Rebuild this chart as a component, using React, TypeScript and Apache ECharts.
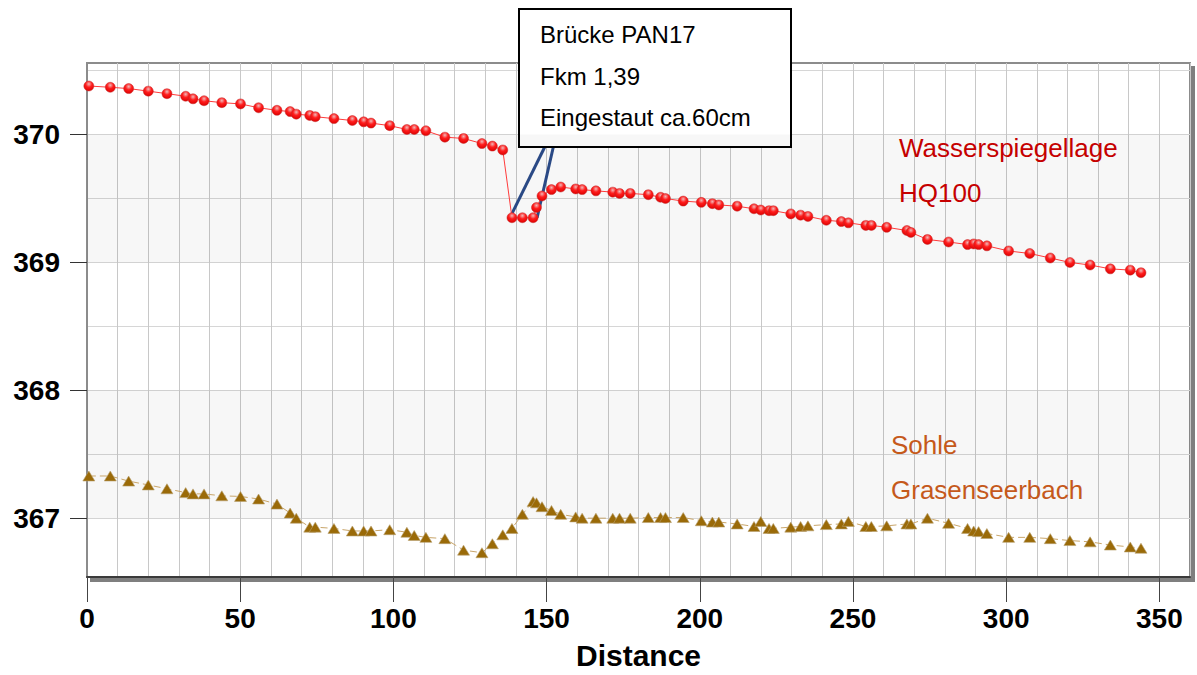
import React, { useEffect, useRef } from "react";
import * as echarts from "echarts";

const distances = [
  0.6, 7.6, 13.6, 20.0, 26.1, 32.2, 34.6, 38.2, 44.0, 50.1, 56.0, 62.0, 66.3, 68.3, 72.7, 74.5,
  80.6, 86.6, 90.3, 92.7, 98.8, 104.4, 106.8, 110.6, 116.8, 122.9, 128.9, 132.3, 135.7, 138.7,
  142.1, 145.6, 146.7, 148.5, 151.6, 154.6, 159.5, 161.6, 166.1, 171.6, 173.8, 177.3, 183.2,
  187.2, 188.8, 194.6, 200.5, 204.1, 206.2, 212.2, 217.7, 219.9, 222.6, 224.0, 229.7, 232.9,
  235.3, 241.3, 246.2, 248.5, 254.2, 256.0, 261.0, 267.6, 268.9, 274.3, 281.2, 287.4, 289.4,
  291.0, 293.7, 300.8, 307.7, 314.4, 320.8, 327.4, 334.0, 340.5, 344.0,
];

const waterLevel = [
  370.38, 370.37, 370.36, 370.34, 370.32, 370.3, 370.28, 370.265, 370.25, 370.24, 370.21, 370.19,
  370.18, 370.16, 370.15, 370.14, 370.125, 370.11, 370.1, 370.09, 370.07, 370.04, 370.04, 370.03,
  369.98, 369.97, 369.93, 369.91, 369.88, 369.35, 369.35, 369.35, 369.43, 369.52, 369.57, 369.59,
  369.575, 369.57, 369.56, 369.55, 369.54, 369.54, 369.53, 369.51, 369.5, 369.48, 369.47, 369.46,
  369.45, 369.44, 369.42, 369.41, 369.405, 369.405, 369.38, 369.37, 369.36, 369.33, 369.32,
  369.31, 369.29, 369.29, 369.275, 369.25, 369.235, 369.18, 369.16, 369.14, 369.145, 369.14,
  369.13, 369.09, 369.07, 369.035, 369.0, 368.98, 368.95, 368.94, 368.92,
];

const bedLevel = [
  367.33, 367.33, 367.29, 367.26, 367.23, 367.2, 367.19, 367.19, 367.175, 367.17, 367.15, 367.11,
  367.04, 367.0, 366.93, 366.93, 366.92, 366.9, 366.9, 366.9, 366.91, 366.89, 366.865, 366.85,
  366.84, 366.75, 366.73, 366.8, 366.87, 366.92, 367.03, 367.13, 367.12, 367.09, 367.06, 367.03,
  367.01, 367.0, 367.0, 367.0, 367.0, 367.0, 367.005, 367.005, 367.005, 367.005, 366.98, 366.97,
  366.97, 366.955, 366.935, 366.975, 366.92, 366.92, 366.93, 366.935, 366.94, 366.95, 366.955,
  366.975, 366.935, 366.935, 366.94, 366.955, 366.955, 367.0, 366.96, 366.92, 366.9, 366.895,
  366.88, 366.85, 366.85, 366.84, 366.825, 366.815, 366.79, 366.775, 366.765,
];

const xLabelTicks = [0, 50, 100, 150, 200, 250, 300, 350];
const yLabelTicks = [367, 368, 369, 370];
const yGridLines = [367, 367.5, 368, 368.5, 369, 369.5, 370, 370.5];
const shadedBands = [
  [369, 370],
  [367, 368],
];

const bridgeNote = ["Brücke PAN17", "Fkm 1,39", "Eingestaut ca.60cm"];
const bridgeStartDistance = 138.7;
const bridgeEndDistance = 145.6;
const waterLabel = ["Wasserspiegellage", "HQ100"];
const bedLabel = ["Sohle", "Grasenseerbach"];

const FONT = "'Liberation Sans', Arial, Helvetica, sans-serif";

export default function App() {
  const ref = useRef<HTMLDivElement>(null);

  useEffect(() => {
    if (!ref.current) return;
    const chart = echarts.init(ref.current, undefined, { renderer: "svg" });

    const X_MIN = 0;
    const X_MAX = 360;
    const Y_MIN = 366.54;
    const Y_MAX = 370.56;

    const option: any = {
      animation: false,
      backgroundColor: "#ffffff",
      grid: {
        left: 87,
        right: 7,
        top: 63,
        bottom: 98,
        show: true,
        backgroundColor: "#ffffff",
        borderColor: "#8c8c8c",
        borderWidth: 2,
        shadowColor: "rgba(0,0,0,0.5)",
        shadowOffsetX: 4,
        shadowOffsetY: 4,
        shadowBlur: 0,
      },
      xAxis: [
        {
          type: "value",
          min: X_MIN,
          max: X_MAX,
          name: "Distance",
          nameLocation: "middle",
          nameGap: 63,
          nameTextStyle: { fontFamily: FONT, fontWeight: "bold", fontSize: 30, color: "#000" },
          axisLine: { show: true, onZero: false, lineStyle: { color: "#3a3a3a", width: 2 } },
          axisTick: {
            show: true,
            length: 25,
            customValues: xLabelTicks,
            lineStyle: { color: "#444", width: 1 },
          },
          axisLabel: {
            show: true,
            customValues: xLabelTicks,
            margin: 27,
            fontFamily: FONT,
            fontWeight: "bold",
            fontSize: 28,
            color: "#000",
          },
          splitLine: { show: false },
        },
        {
          type: "value",
          min: X_MIN,
          max: X_MAX,
          interval: 10,
          position: "bottom",
          axisLine: { show: false },
          axisTick: { show: false },
          axisLabel: { show: false },
          splitLine: { show: true, lineStyle: { color: "#c8c8c8", width: 1 } },
        },
      ],
      yAxis: [
        {
          type: "value",
          min: Y_MIN,
          max: Y_MAX,
          axisLine: { show: true, lineStyle: { color: "#8c8c8c", width: 2 } },
          axisTick: {
            show: true,
            length: 17,
            customValues: yLabelTicks,
            lineStyle: { color: "#333", width: 1 },
          },
          axisLabel: {
            show: true,
            customValues: yLabelTicks,
            margin: 27,
            fontFamily: FONT,
            fontWeight: "bold",
            fontSize: 28,
            color: "#000",
          },
          splitLine: { show: false },
        },
        {
          type: "value",
          min: Y_MIN,
          max: Y_MAX,
          position: "left",
          axisLine: { show: false },
          axisTick: { show: false, customValues: yGridLines },
          axisLabel: { show: false, customValues: yGridLines },
          splitLine: { show: true, lineStyle: { color: "#d6d6d6", width: 1 } },
        },
      ],
      series: [
        {
          name: "Wasserspiegellage HQ100",
          type: "line",
          xAxisIndex: 0,
          yAxisIndex: 0,
          clip: false,
          z: 5,
          data: distances.map((d, i) => [d, waterLevel[i]]),
          symbol: "circle",
          symbolSize: 10,
          lineStyle: { color: "#ff3b3b", width: 1 },
          itemStyle: {
            color: {
              type: "radial",
              x: 0.5,
              y: 0.3,
              r: 0.7,
              colorStops: [
                { offset: 0, color: "#f0b8b8" },
                { offset: 0.45, color: "#ff1e1e" },
                { offset: 1, color: "#dd0000" },
              ],
            },
            borderColor: "#c23030",
            borderWidth: 0.5,
          },
          markArea: {
            silent: true,
            itemStyle: { color: "rgba(0,0,0,0.032)" },
            data: shadedBands.map((b) => [{ yAxis: b[0] }, { yAxis: b[1] }]),
          },
        },
        {
          name: "Sohle Grasenseerbach",
          type: "line",
          xAxisIndex: 0,
          yAxisIndex: 0,
          clip: false,
          z: 4,
          data: distances.map((d, i) => [d, bedLevel[i]]),
          symbol: "triangle",
          symbolSize: [12, 10],
          lineStyle: { color: "#c9a66b", width: 1, type: [7, 4] },
          itemStyle: { color: "#9a6a08", borderColor: "#b8a070", borderWidth: 0.6 },
        },
      ],
    };

    chart.setOption(option);

    const p1 = chart.convertToPixel({ xAxisIndex: 0, yAxisIndex: 0 }, [
      bridgeStartDistance,
      waterLevel[distances.indexOf(bridgeStartDistance)],
    ]) as number[];
    const p2 = chart.convertToPixel({ xAxisIndex: 0, yAxisIndex: 0 }, [
      bridgeEndDistance,
      waterLevel[distances.indexOf(bridgeEndDistance)],
    ]) as number[];

    const textStyle = (text: string, x: number, y: number, fill: string, size: number) => ({
      type: "text",
      style: {
        text,
        x,
        y,
        fill,
        fontSize: size,
        fontFamily: FONT,
        align: "left",
        verticalAlign: "middle",
      },
    });

    chart.setOption({
      graphic: [
        {
          type: "group",
          z: 100,
          children: [
            {
              type: "line",
              shape: { x1: 546.7, y1: 143, x2: p1[0], y2: p1[1] - 4 },
              style: { stroke: "#2c4c8a", lineWidth: 3 },
            },
            {
              type: "line",
              shape: { x1: 554, y1: 144, x2: p2[0] + 4, y2: p2[1] },
              style: { stroke: "#2c4c8a", lineWidth: 3 },
            },
            {
              type: "rect",
              shape: { x: 519, y: 9, width: 272, height: 138 },
              style: { fill: "#ffffff", stroke: "#000000", lineWidth: 2 },
            },
            textStyle(bridgeNote[0], 540, 34, "#000", 24),
            textStyle(bridgeNote[1], 540, 76, "#000", 24),
            textStyle(bridgeNote[2], 540, 117, "#000", 24),
            textStyle(waterLabel[0], 899, 148, "#cc0000", 26),
            textStyle(waterLabel[1], 899, 193, "#cc0000", 26),
            textStyle(bedLabel[0], 891, 445, "#cc5c1c", 26),
            textStyle(bedLabel[1], 891, 490, "#cc5c1c", 26),
          ],
        },
      ],
    });

    return () => chart.dispose();
  }, []);

  return (
    <div
      ref={ref}
      style={{ position: "fixed", left: 0, top: 0, width: 1197, height: 675 }}
    />
  );
}
